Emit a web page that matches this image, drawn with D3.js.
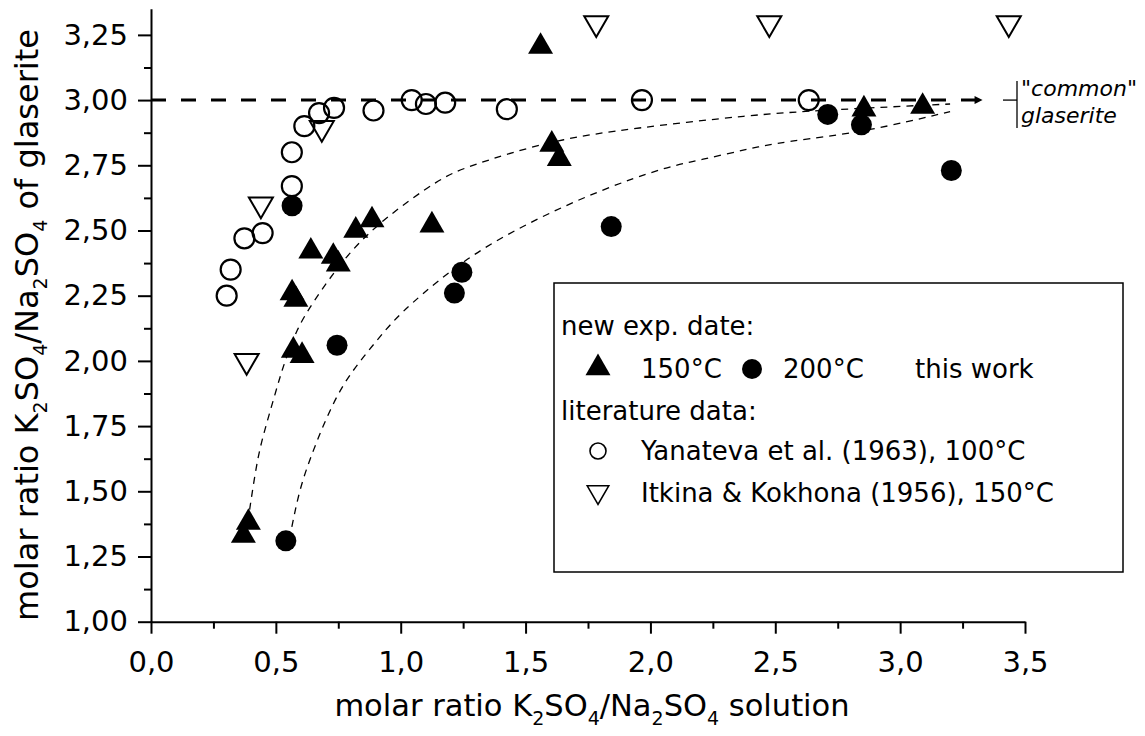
<!DOCTYPE html>
<html>
<head>
<meta charset="utf-8">
<script src="https://cdn.jsdelivr.net/npm/d3@7"></script>
<style>
    body { margin: 0; background: #fff; }
    svg text { font-family: "DejaVu Sans", sans-serif; fill: #000; }
</style>
</head>
<body>
<div id="chart-area"></div>
<script>
// values
var exp150X = [0.37, 0.39, 0.565, 0.58, 0.57, 0.605, 0.64, 0.73, 0.75, 0.82, 0.885, 1.125, 1.56, 1.605, 1.635, 2.855, 3.09];
var exp150Y = [1.33, 1.38, 2.26, 2.235, 2.04, 2.02, 2.42, 2.40, 2.37, 2.50, 2.54, 2.52, 3.205, 2.83, 2.775, 2.965, 2.975];

var exp200X = [0.54, 0.565, 0.745, 1.215, 1.245, 1.843, 2.71, 2.845, 3.205];
var exp200Y = [1.31, 2.595, 2.06, 2.26, 2.34, 2.515, 2.945, 2.905, 2.73];

var yanX = [0.303, 0.319, 0.374, 0.447, 0.564, 0.564, 0.614, 0.673, 0.733, 0.891, 1.044, 1.101, 1.178, 1.425, 1.966, 2.634];
var yanY = [2.25, 2.35, 2.47, 2.49, 2.67, 2.80, 2.90, 2.95, 2.97, 2.96, 3.00, 2.985, 2.99, 2.965, 3.00, 3.00];

var itkX = [0.383, 0.44, 0.684, 1.783, 2.476, 3.435];
var itkY = [2.00, 2.60, 2.893, 3.295, 3.295, 3.295];

// hand drawn trend curves (dashed)
var fit150X = [0.395, 0.417, 0.437, 0.463, 0.49, 0.517, 0.544, 0.584, 0.637, 0.784, 0.938, 1.158, 1.265, 1.605, 1.932, 2.40, 2.70, 3.2];
var fit150Y = [1.43, 1.57, 1.67, 1.76, 1.85, 1.94, 2.02, 2.12, 2.21, 2.41, 2.55, 2.70, 2.745, 2.847, 2.892, 2.943, 2.962, 2.985];
var fit200X = [0.564, 0.597, 0.65, 0.704, 0.77, 0.851, 0.938, 1.018, 1.265, 1.532, 1.799, 2.066, 2.20, 2.401, 2.533, 2.867, 3.2];
var fit200Y = [1.364, 1.518, 1.658, 1.786, 1.914, 2.016, 2.118, 2.202, 2.40, 2.54, 2.655, 2.745, 2.77, 2.815, 2.84, 2.879, 2.956];

var commonRatio = 3.0;
var commonLineEnd = 3.33;

var xMajor = [0, 0.5, 1, 1.5, 2, 2.5, 3, 3.5];
var xMinor = [0.25, 0.75, 1.25, 1.75, 2.25, 2.75, 3.25];
var yMajor = [1, 1.25, 1.5, 1.75, 2, 2.25, 2.5, 2.75, 3, 3.25];
var yMinor = [1.125, 1.375, 1.625, 1.875, 2.125, 2.375, 2.625, 2.875, 3.125];

var margin = {left: 151, right: 120, top: 8.8, bottom: 114.3};
var width = 1145 - margin.left - margin.right;
var height = 736 - margin.top - margin.bottom;

var svg = d3.select("#chart-area").append("svg")
    .attr("width", 1145)
    .attr("height", 736);

var g = svg.append("g")
    .attr("transform", "translate(" + margin.left + "," + margin.top + ")");

var x = d3.scaleLinear().domain([0, 3.5]).range([0, width]);
var y = d3.scaleLinear().domain([1, 3.35]).range([height, 0]);

var comma = d3.formatLocale({decimal: ",", thousands: ".", grouping: [3], currency: ["", ""]});

// text with chemical subscripts
function richText(sel, parts, subSize, shift) {
    var down = false;
    parts.forEach(function(p) {
        var t = sel.append("tspan").text(p);
        var isSub = /^[0-9]$/.test(p);
        if (isSub) {
            t.attr("font-size", subSize).attr("dy", shift);
            down = true;
        } else if (down) {
            t.attr("dy", -shift);
            down = false;
        }
    });
}

// axes
var xAxisCall = d3.axisBottom(x)
    .tickValues(xMajor)
    .tickSize(12)
    .tickSizeOuter(0)
    .tickPadding(18)
    .tickFormat(comma.format(".1f"));
var xAxis = g.append("g")
    .attr("class", "x-axis")
    .attr("transform", "translate(0," + height + ")")
    .call(xAxisCall);

var xMinorAxis = g.append("g")
    .attr("transform", "translate(0," + height + ")")
    .call(d3.axisBottom(x).tickValues(xMinor).tickSize(7).tickFormat(""));
xMinorAxis.select(".domain").remove();

var yAxisCall = d3.axisLeft(y)
    .tickValues(yMajor)
    .tickSize(13)
    .tickSizeOuter(0)
    .tickPadding(10)
    .tickFormat(comma.format(".2f"));
var yAxis = g.append("g")
    .attr("class", "y-axis")
    .call(yAxisCall);

var yMinorAxis = g.append("g")
    .call(d3.axisLeft(y).tickValues(yMinor).tickSize(7).tickFormat(""));
yMinorAxis.select(".domain").remove();

g.selectAll(".x-axis, .y-axis")
    .attr("font-size", 29)
    .attr("font-family", "DejaVu Sans, sans-serif");
g.selectAll(".tick line, .domain")
    .attr("stroke", "#000")
    .attr("stroke-width", 2);

// axis labels
var xLabel = svg.append("text")
    .attr("x", margin.left + width / 2 + 4)
    .attr("y", 716)
    .attr("font-size", 30.5)
    .attr("text-anchor", "middle");
richText(xLabel, ["molar ratio K", "2", "SO", "4", "/Na", "2", "SO", "4", " solution"], 19, 9);

var yLabel = svg.append("text")
    .attr("transform", "translate(38,325) rotate(-90)")
    .attr("font-size", 32)
    .attr("text-anchor", "middle");
richText(yLabel, ["molar ratio K", "2", "SO", "4", "/Na", "2", "SO", "4", " of glaserite"], 19, 9);

// arrow marker
svg.append("defs").append("marker")
    .attr("id", "arrow")
    .attr("viewBox", "0 0 10 10")
    .attr("refX", 10)
    .attr("refY", 5)
    .attr("markerWidth", 10)
    .attr("markerHeight", 8)
    .attr("markerUnits", "userSpaceOnUse")
    .attr("orient", "auto")
    .append("path")
    .attr("d", "M0,0 L10,5 L0,10 Z")
    .attr("fill", "#000");

// "common" glaserite reference line
g.append("line")
    .attr("x1", x(0))
    .attr("x2", x(commonLineEnd))
    .attr("y1", y(commonRatio))
    .attr("y2", y(commonRatio))
    .attr("stroke", "#000")
    .attr("stroke-width", 3)
    .attr("stroke-dasharray", "15,15")
    .attr("marker-end", "url(#arrow)");

var bx = x(3.5) - 8;
g.append("line")
    .attr("x1", bx - 14).attr("x2", bx)
    .attr("y1", y(commonRatio)).attr("y2", y(commonRatio))
    .attr("stroke", "#000").attr("stroke-width", 1.3);
g.append("line")
    .attr("x1", bx).attr("x2", bx)
    .attr("y1", y(commonRatio) - 19).attr("y2", y(commonRatio) + 28)
    .attr("stroke", "#000").attr("stroke-width", 1.3);
g.append("text")
    .attr("x", bx + 4)
    .attr("y", y(commonRatio) - 4)
    .attr("font-size", 22)
    .attr("font-style", "italic")
    .text("\"common\"");
g.append("text")
    .attr("x", bx + 4)
    .attr("y", y(commonRatio) + 23)
    .attr("font-size", 22)
    .attr("font-style", "italic")
    .text("glaserite");

// trend curves
var line = d3.line()
    .x(function(d) { return x(d[0]); })
    .y(function(d) { return y(d[1]); })
    .curve(d3.curveBasis);

[[fit150X, fit150Y], [fit200X, fit200Y]].forEach(function(s) {
    g.append("path")
        .datum(d3.zip(s[0], s[1]))
        .attr("d", line)
        .attr("fill", "none")
        .attr("stroke", "#000")
        .attr("stroke-width", 1.3)
        .attr("stroke-dasharray", "7,6");
});

// markers
var triUp = d3.symbol().type(d3.symbolTriangle).size(270)();

g.selectAll(".itk")
    .data(d3.zip(itkX, itkY))
    .enter().append("path")
    .attr("class", "itk")
    .attr("d", d3.symbol().type(d3.symbolTriangle).size(250)())
    .attr("transform", function(d) { return "translate(" + x(d[0]) + "," + y(d[1]) + ") rotate(180)"; })
    .attr("fill", "none")
    .attr("stroke", "#000")
    .attr("stroke-width", 2);

g.selectAll(".yan")
    .data(d3.zip(yanX, yanY))
    .enter().append("circle")
    .attr("class", "yan")
    .attr("cx", function(d) { return x(d[0]); })
    .attr("cy", function(d) { return y(d[1]); })
    .attr("r", 10)
    .attr("fill", "none")
    .attr("stroke", "#000")
    .attr("stroke-width", 2.2);

g.selectAll(".e200")
    .data(d3.zip(exp200X, exp200Y))
    .enter().append("circle")
    .attr("class", "e200")
    .attr("cx", function(d) { return x(d[0]); })
    .attr("cy", function(d) { return y(d[1]); })
    .attr("r", 10.5)
    .attr("fill", "#000");

g.selectAll(".e150")
    .data(d3.zip(exp150X, exp150Y))
    .enter().append("path")
    .attr("class", "e150")
    .attr("d", triUp)
    .attr("transform", function(d) { return "translate(" + x(d[0]) + "," + y(d[1]) + ")"; })
    .attr("fill", "#000");

// legend
var legend = svg.append("g").attr("class", "legend");
legend.append("rect")
    .attr("x", 554).attr("y", 283)
    .attr("width", 569).attr("height", 289)
    .attr("fill", "none")
    .attr("stroke", "#000")
    .attr("stroke-width", 1.5);

var legendFont = 26;
legend.append("text").attr("x", 561).attr("y", 335).attr("font-size", legendFont).text("new exp. date:");
legend.append("path").attr("d", triUp).attr("transform", "translate(598,368)").attr("fill", "#000");
legend.append("text").attr("x", 641).attr("y", 378).attr("font-size", legendFont).text("150°C");
legend.append("circle").attr("cx", 752).attr("cy", 369).attr("r", 10).attr("fill", "#000");
legend.append("text").attr("x", 783).attr("y", 378).attr("font-size", legendFont).text("200°C");
legend.append("text").attr("x", 915).attr("y", 378).attr("font-size", legendFont).text("this work");
legend.append("text").attr("x", 561).attr("y", 420).attr("font-size", legendFont).text("literature data:");
legend.append("circle").attr("cx", 598).attr("cy", 451).attr("r", 8).attr("fill", "none").attr("stroke", "#000").attr("stroke-width", 1.6);
legend.append("text").attr("x", 641).attr("y", 460).attr("font-size", legendFont).text("Yanateva et al. (1963), 100°C");
legend.append("path").attr("d", d3.symbol().type(d3.symbolTriangle).size(200)())
    .attr("transform", "translate(598,492) rotate(180)")
    .attr("fill", "none").attr("stroke", "#000").attr("stroke-width", 1.6);
legend.append("text").attr("x", 641).attr("y", 502).attr("font-size", legendFont).text("Itkina & Kokhona (1956), 150°C");
</script>
</body>
</html>
